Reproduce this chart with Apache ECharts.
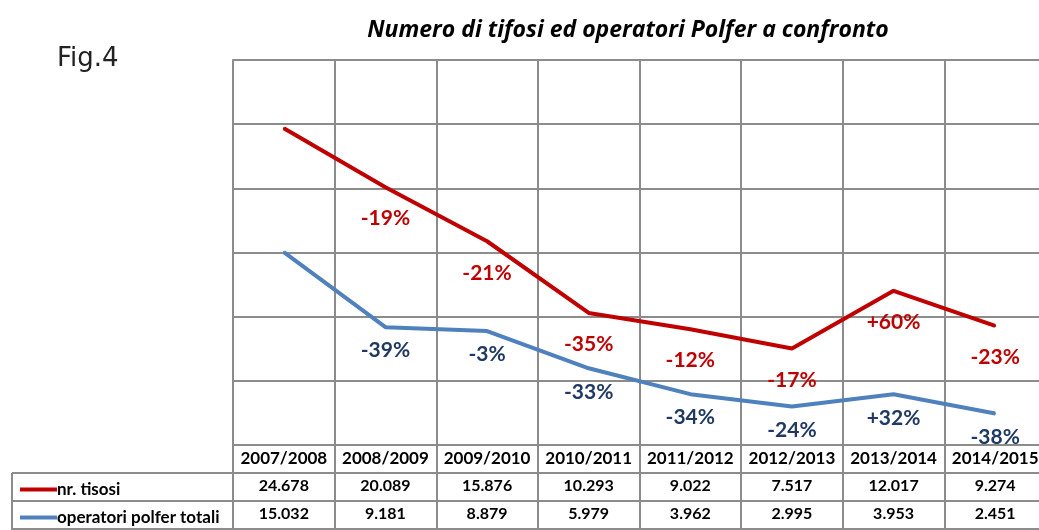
<!DOCTYPE html>
<html>
<head>
<meta charset="utf-8">
<script src="https://cdn.jsdelivr.net/npm/echarts@6/dist/echarts.min.js"></script>
<style>
  html, body { margin: 0; padding: 0; background: #fff; overflow: hidden; }
  #chart { width: 1047px; height: 530px; }
</style>
</head>
<body>
<div id="chart"></div>
<script>
var stagioni = ['2007/2008', '2008/2009', '2009/2010', '2010/2011', '2011/2012', '2012/2013', '2013/2014', '2014/2015'];
var tifosi = [24678, 20089, 15876, 10293, 9022, 7517, 12017, 9274];
var operatori = [15032, 9181, 8879, 5979, 3962, 2995, 3953, 2451];
var nomi = ['nr. tisosi', 'operatori polfer totali'];

var grigio = '#8c8c8c';
var font = 'Lato, "Open Sans", sans-serif';

// 24678 -> "24.678"
function fmt(v) {
  return String(v).replace(/\B(?=(\d{3})+(?!\d))/g, '.');
}
// variazione percentuale rispetto alla stagione precedente
function variazione(arr) {
  return function (p) {
    var i = p.dataIndex;
    if (i == 0) return '';
    var d = Math.round((arr[i] / arr[i - 1] - 1) * 100);
    return (d > 0 ? '+' : '') + d + '%';
  };
}

function asseTabella(offset, righe, showLabel, size) {
  return {
    type: 'category',
    data: stagioni,
    position: 'bottom',
    offset: offset,
    boundaryGap: true,
    axisLine: { show: true, lineStyle: { color: grigio, width: 2 } },
    axisTick: { show: righe, length: 28, inside: false, lineStyle: { color: grigio, width: 2 } },
    axisLabel: {
      show: showLabel !== false,
      margin: 5,
      interval: 0,
      color: '#000',
      fontFamily: font,
      fontWeight: 'bold',
      fontSize: size || 16,
      formatter: typeof showLabel == 'function' ? showLabel : null
    },
    splitLine: { show: false }
  };
}

var myChart = echarts.init(document.getElementById('chart'));

var xAxes = [
  asseTabella(0, true, true, 17),
  asseTabella(28, true, function (v, i) { return fmt(tifosi[i]); }, 16),
  asseTabella(56, true, function (v, i) { return fmt(operatori[i]); }, 16),
  asseTabella(84, false, false)
];
xAxes[0].splitLine = { show: true, lineStyle: { color: grigio, width: 2 } };

var legendaTesto = { fontFamily: font, fontWeight: 'bold', fontSize: 17, color: '#000', padding: [0, 0, 0, -5] };

var option = {
  backgroundColor: '#fff',
  animation: false,
  title: [{
    text: 'Numero di tifosi ed operatori Polfer a confronto',
    left: 623,
    textAlign: 'center',
    top: 14,
    textStyle: { fontFamily: '"Open Sans", sans-serif', fontStyle: 'italic', fontWeight: 'bold', fontSize: 23, color: '#000' }
  }, {
    text: 'Fig.4',
    left: 52,
    top: 41,
    textStyle: { fontFamily: '"DejaVu Sans", sans-serif', fontWeight: 'normal', fontSize: 26, color: '#222' }
  }],
  legend: [{
    data: [nomi[0]],
    left: 15,
    top: 476,
    icon: 'rect',
    itemWidth: 37,
    itemHeight: 4,
    textStyle: legendaTesto
  }, {
    data: [nomi[1]],
    left: 15,
    top: 504,
    icon: 'rect',
    itemWidth: 37,
    itemHeight: 4,
    textStyle: legendaTesto
  }],
  grid: { left: 233, top: 60, width: 813, height: 385, containLabel: false },
  xAxis: xAxes,
  yAxis: {
    type: 'value',
    min: 0,
    max: 30000,
    interval: 5000,
    axisLine: { show: true, lineStyle: { color: grigio, width: 2 } },
    axisTick: { show: false },
    axisLabel: { show: false },
    splitLine: { show: true, lineStyle: { color: grigio, width: 2 } }
  },
  graphic: [
    { type: 'line', shape: { x1: 12, y1: 473, x2: 233, y2: 473 }, style: { stroke: grigio, lineWidth: 2 } },
    { type: 'line', shape: { x1: 12, y1: 501, x2: 233, y2: 501 }, style: { stroke: grigio, lineWidth: 2 } },
    { type: 'line', shape: { x1: 12, y1: 529, x2: 233, y2: 529 }, style: { stroke: grigio, lineWidth: 2 } },
    { type: 'line', shape: { x1: 12, y1: 473, x2: 12, y2: 530 }, style: { stroke: grigio, lineWidth: 2 } }
  ],
  series: [{
    name: nomi[0],
    type: 'line',
    data: tifosi,
    symbol: 'circle',
    symbolSize: 2,
    color: '#C00000',
    lineStyle: { width: 4, color: '#C00000' },
    label: {
      show: true,
      position: 'bottom',
      distance: 20,
      formatter: variazione(tifosi),
      color: '#C00000',
      fontFamily: font,
      fontWeight: 'bold',
      fontSize: 21
    },
    z: 3
  }, {
    name: nomi[1],
    type: 'line',
    data: operatori,
    symbol: 'circle',
    symbolSize: 2,
    color: '#4F81BD',
    lineStyle: { width: 4, color: '#4F81BD' },
    label: {
      show: true,
      position: 'bottom',
      distance: 12,
      formatter: variazione(operatori),
      color: '#1F3864',
      fontFamily: font,
      fontWeight: 'bold',
      fontSize: 21
    },
    z: 3
  }]
};

myChart.setOption(option);
</script>
</body>
</html>
